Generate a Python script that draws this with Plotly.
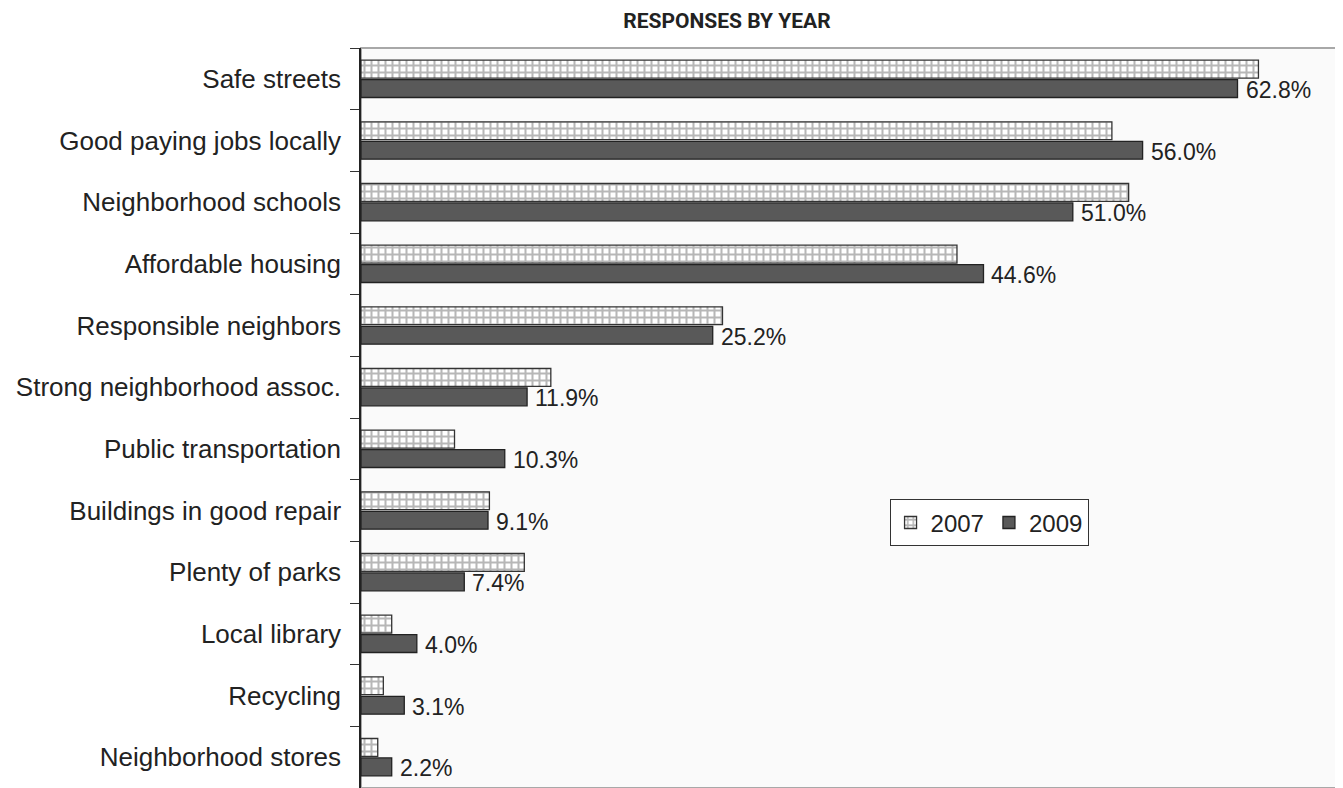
import plotly.graph_objects as go

categories = [
    "Safe streets", "Good paying jobs locally", "Neighborhood schools",
    "Affordable housing", "Responsible neighbors", "Strong neighborhood assoc.",
    "Public transportation", "Buildings in good repair", "Plenty of parks",
    "Local library", "Recycling", "Neighborhood stores",
]
values_2007 = [64.3, 53.8, 55.0, 42.7, 25.9, 13.6, 6.7, 9.2, 11.7, 2.2, 1.6, 1.2]
values_2009 = [62.8, 56.0, 51.0, 44.6, 25.2, 11.9, 10.3, 9.1, 7.4, 4.0, 3.1, 2.2]
labels_2009 = [f"{v:.1f}%" for v in values_2009]

fig = go.Figure()

fig.add_trace(go.Bar(
    y=categories, x=values_2007, orientation="h", name="2007",
    marker=dict(
        color="white",
        line=dict(color="#333333", width=1.3),
        pattern=dict(shape="+", size=7, solidity=0.5,
                     fgcolor="#707070", bgcolor="white"),
    ),
))

fig.add_trace(go.Bar(
    y=categories, x=values_2009, orientation="h", name="2009",
    marker=dict(color="#595959", line=dict(color="#222222", width=1.3)),
))

# value labels next to the 2009 bars
for cat, val, lab in zip(categories, values_2009, labels_2009):
    fig.add_annotation(
        x=val, y=cat, text=lab, showarrow=False,
        xanchor="left", yanchor="middle", xshift=6, yshift=-11,
        font=dict(family="Liberation Sans, Arial, sans-serif", size=23, color="#222222"),
    )

# gray border around plot area (top/right visible)
fig.add_shape(type="rect", xref="paper", yref="paper", x0=0, x1=1, y0=0, y1=1,
              line=dict(color="#a8a8a8", width=2), layer="below")

# page body adds an 8px offset, so the figure is 8px smaller than the window
fig.update_layout(
    width=1335, height=780,
    margin=dict(l=353, r=5, t=40, b=0, autoexpand=False),
    paper_bgcolor="white", plot_bgcolor="#fafafa",
    barmode="group", bargap=0.37, bargroupgap=0.08,
    font=dict(family="Liberation Sans, Arial, sans-serif", color="#222222"),
    title=dict(
        text="<b>RESPONSES BY YEAR</b>",
        font=dict(family="Roboto, Liberation Sans, sans-serif",
                  size=21, color="#222222"),
        x=0.3746, xref="paper", xanchor="center",
        y=1 - 13 / 780, yref="container", yanchor="middle",
    ),
    legend=dict(
        orientation="h", x=0.541, y=0.39, xanchor="left", yanchor="top",
        bgcolor="white", bordercolor="#333333", borderwidth=1,
        font=dict(size=24, color="#222222"),
    ),
    showlegend=True,
)

fig.update_xaxes(range=[0, 70], visible=False, showgrid=False)
fig.update_yaxes(
    autorange="reversed", tickson="boundaries", ticks="outside", ticklen=9,
    tickcolor="#333333", showline=True, linecolor="#222222", linewidth=1.5,
    showgrid=False, tickfont=dict(size=26, color="#222222"),
    ticklabelstandoff=13, automargin=False,
)

fig.write_html("out.html")
